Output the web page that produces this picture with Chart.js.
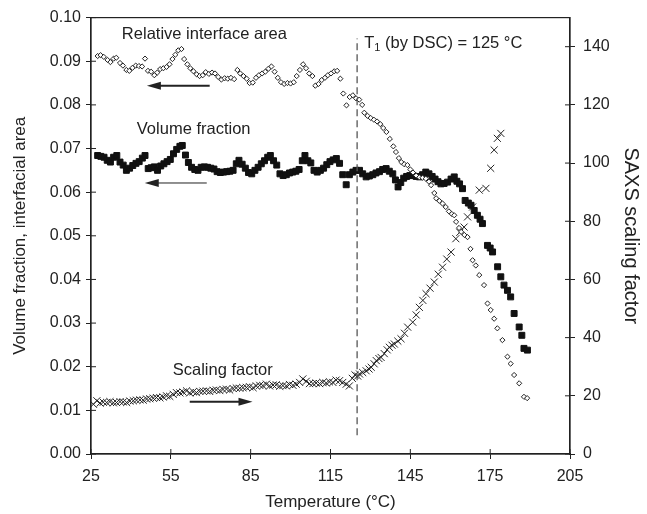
<!DOCTYPE html>
<html>
<head>
<meta charset="utf-8">
<script src="https://cdn.jsdelivr.net/npm/chart.js@4.4.1/dist/chart.umd.min.js"></script>
<style>
  body { margin: 0; background: #fff; }
  #wrap { width: 647px; height: 514px; }
</style>
</head>
<body>
<div id="wrap"><canvas id="myChart" width="647" height="514"></canvas></div>
<script>
// relative interface area (open diamonds, left axis)
const interfaceTemp = [27.5, 28.6, 29.8, 31.2, 32.3, 33.5, 34.5, 35.9, 37, 38.3, 39.4, 40.6, 41.8, 43, 44.2, 45.3, 46.4, 47.6, 48.8, 49.9,
  51, 52.2, 53.4, 54.5, 55.6, 56.7, 57.8, 59, 60, 61.2, 62.3, 63.5, 64.7, 65.8, 67, 68.1, 69.3, 70.5, 71.6, 72.8,
  74, 75.2, 76.4, 77.6, 78.8, 80, 81.1, 82.3, 83.5, 84.6, 85.8, 87, 88.1, 89.3, 90.5, 91.7, 92.8, 94, 95.2, 96.4,
  97.6, 98.8, 100, 101.2, 102.3, 103.5, 104.7, 105.8, 107, 108.2, 109.3, 110.5, 111.7, 112.9, 114, 115.2, 116.4, 117.5, 118.7, 119.8,
  121, 122.2, 123.4, 124.6, 125.8, 126.9, 127.7, 128.9, 130.1, 131.3, 132.5, 133.7, 134.8, 136, 137.3, 138.6, 139.6, 140.7, 141.6, 142.7,
  143.9, 145, 146, 147.2, 148.4, 149.6, 150.8, 152, 152.8, 154, 154.7, 155.9, 157.1, 158.3, 159.5, 160.6, 161.5, 162.2, 163.3, 164.1,
  165.3, 166.5, 167.6, 168.4, 169.6, 170.9, 172.7, 174, 175.2, 176.5, 177.7, 179.6, 181.5, 182.7, 184, 185.9, 187.7, 188.9];
const interfaceArea = [0.0912, 0.0914, 0.0910, 0.0903, 0.0898, 0.0906, 0.0908, 0.0896, 0.0890, 0.0880, 0.0878, 0.0885, 0.0890, 0.0889, 0.0888, 0.0906, 0.0878, 0.0876, 0.0868, 0.0874,
  0.0882, 0.0884, 0.0887, 0.0893, 0.0905, 0.0915, 0.0925, 0.0928, 0.0905, 0.0893, 0.0884, 0.0877, 0.0870, 0.0866, 0.0868, 0.0875, 0.0871, 0.0874, 0.0872, 0.0864,
  0.0858, 0.0861, 0.0860, 0.0862, 0.0859, 0.0880, 0.0872, 0.0866, 0.0860, 0.0850, 0.0851, 0.0862, 0.0868, 0.0872, 0.0876, 0.0883, 0.0888, 0.0876, 0.0862, 0.0852,
  0.0848, 0.0850, 0.0849, 0.0852, 0.0866, 0.0880, 0.0893, 0.0884, 0.0872, 0.0866, 0.0844, 0.0848, 0.0857, 0.0862, 0.0868, 0.0872, 0.0877, 0.0878, 0.0860, 0.0826,
  0.0799, 0.0818, 0.0822, 0.0815, 0.0812, 0.0800, 0.0782, 0.0775, 0.0770, 0.0766, 0.0762, 0.0756, 0.0747, 0.0738, 0.0722, 0.0705, 0.0692, 0.0678, 0.0669, 0.0664,
  0.0662, 0.0652, 0.0645, 0.0638, 0.0634, 0.0633, 0.0631, 0.0624, 0.0616, 0.0598, 0.0586, 0.0580, 0.0574, 0.0566, 0.0556, 0.0550, 0.0547, 0.0532, 0.0518, 0.0509,
  0.0502, 0.0497, 0.0470, 0.0444, 0.0432, 0.0410, 0.0387, 0.0345, 0.0330, 0.0310, 0.0288, 0.0261, 0.0223, 0.0207, 0.0181, 0.0162, 0.0131, 0.0128];

// volume fraction (filled squares, left axis)
const volumeTemp = [27.5, 28.7, 29.9, 31.1, 32.3, 33.5, 34.7, 35.9, 37.1, 38.3, 39.5, 40.7, 41.9, 43.1, 44.3, 45.3, 46.5, 47.6, 48.8, 50,
  51.2, 52.4, 53.6, 54.8, 56, 57.2, 58.4, 59.3, 60.5, 61.6, 62.8, 64, 65.2, 66.4, 67.6, 68.8, 70, 71.2, 72.4, 73.6,
  74.8, 76, 77.2, 78.4, 79.6, 80.6, 81.8, 83, 84.2, 85.4, 86.6, 87.8, 89, 90.2, 91.4, 92.4, 93.6, 94.8, 96, 97.2,
  98.4, 99.6, 100.8, 102, 103.2, 104.4, 105.4, 106.5, 107.6, 108.8, 110, 111.2, 112.4, 113.6, 114.8, 116, 117.2, 118.4, 119.6, 120.9,
  122.1, 123.4, 124.6, 125.9, 127.1, 128.4, 129.6, 130.9, 132.1, 133.4, 134.6, 135.9, 137.1, 138.4, 139.4, 140.4, 141.4, 142.5, 143.6, 144.8,
  146, 147.2, 148.4, 149.6, 150.8, 152, 153.2, 154.3, 155.4, 156.5, 157.7, 159, 160.3, 161.5, 162.5, 163.5, 164.6, 165.6, 166.8, 167.8,
  169, 170.2, 171.2, 172.1, 174, 175, 175.9, 177.8, 179, 180.2, 181.5, 182.7, 184, 185.9, 186.9, 187.7, 189];
const volumeFraction = [0.0684, 0.0682, 0.0680, 0.0673, 0.0669, 0.0680, 0.0684, 0.0669, 0.0662, 0.0650, 0.0655, 0.0661, 0.0666, 0.0670, 0.0678, 0.0684, 0.0654, 0.0656, 0.0658, 0.0650,
  0.0660, 0.0665, 0.0670, 0.0675, 0.0688, 0.0698, 0.0705, 0.0707, 0.0685, 0.0668, 0.0657, 0.0652, 0.0650, 0.0657, 0.0658, 0.0657, 0.0655, 0.0653, 0.0647, 0.0645,
  0.0646, 0.0647, 0.0648, 0.0650, 0.0665, 0.0673, 0.0664, 0.0655, 0.0645, 0.0642, 0.0650, 0.0657, 0.0665, 0.0672, 0.0680, 0.0684, 0.0672, 0.0662, 0.0642, 0.0638,
  0.0640, 0.0644, 0.0646, 0.0648, 0.0652, 0.0672, 0.0684, 0.0672, 0.0667, 0.0650, 0.0646, 0.0650, 0.0655, 0.0663, 0.0670, 0.0674, 0.0677, 0.0666, 0.0640, 0.0617,
  0.0640, 0.0646, 0.0650, 0.0650, 0.0642, 0.0635, 0.0637, 0.0640, 0.0644, 0.0647, 0.0652, 0.0654, 0.0648, 0.0642, 0.0628, 0.0612, 0.0622, 0.0632, 0.0636, 0.0638,
  0.0638, 0.0636, 0.0635, 0.0640, 0.0646, 0.0642, 0.0636, 0.0630, 0.0624, 0.0619, 0.0620, 0.0623, 0.0630, 0.0635, 0.0625, 0.0619, 0.0608, 0.0581, 0.0575, 0.0570,
  0.0558, 0.0547, 0.0538, 0.0528, 0.0478, 0.0472, 0.0463, 0.0429, 0.0406, 0.0387, 0.0375, 0.0360, 0.0322, 0.0291, 0.0272, 0.0242, 0.0238];

// SAXS scaling factor (crosses, right axis)
const scalingTemp = [25.9, 27.2, 28.4, 29.6, 30.9, 32.1, 33.4, 34.6, 35.9, 37.1, 38.4, 39.6, 40.9, 42.1, 43.4, 44.6, 45.9, 47.1, 48.4, 49.6,
  50.9, 52.1, 53.4, 54.6, 55.9, 57.1, 58.4, 59.6, 60.9, 62.1, 63.4, 64.6, 65.9, 67.1, 68.4, 69.6, 70.9, 72.1, 73.4, 74.6,
  75.9, 77.1, 78.4, 79.6, 80.9, 82.1, 83.4, 84.6, 85.9, 87.1, 88.4, 89.6, 90.9, 92.1, 93.4, 94.6, 95.9, 97.1, 98.4, 99.6,
  100.9, 102.1, 103.4, 104.6, 105.9, 107.1, 108.4, 109.6, 110.9, 112.1, 113.4, 114.6, 115.9, 117.1, 118.4, 119.6, 120.9, 122.1, 123.2, 124.2,
  125.2, 125.9, 127.1, 128.4, 129.5, 130.3, 131.4, 132.2, 133.2, 134, 135.2, 136.3, 137.1, 138.1, 139, 140.3, 141.5, 142.8, 144, 145.9,
  147.2, 148.4, 149.7, 150.9, 152.4, 154, 155.5, 157.1, 158.7, 160.3, 162.1, 163.6, 165.2, 166.5, 168.4, 170.9, 173.4, 175.2, 176.5, 177.7, 179];
const scalingFactor = [17.1, 18.3, 17.5, 17.8, 17.7, 18.0, 17.6, 17.7, 18.0, 17.9, 17.7, 18.2, 18.3, 18.5, 18.6, 18.5, 18.9, 19.0, 19.2, 19.4,
  19.3, 19.6, 20.0, 19.8, 20.5, 21.1, 21.0, 21.3, 21.7, 21.0, 21.4, 21.1, 21.5, 21.6, 21.7, 21.5, 21.9, 22.0, 21.8, 22.2,
  22.3, 22.0, 22.5, 22.7, 22.6, 22.8, 22.9, 23.1, 22.8, 23.4, 23.6, 23.5, 24.0, 23.4, 23.7, 23.8, 23.3, 23.5, 23.4, 23.9,
  23.6, 24.0, 24.6, 25.8, 25.0, 24.2, 24.2, 24.4, 24.2, 24.6, 24.4, 24.8, 24.6, 25.4, 25.2, 24.6, 24.0, 23.4, 26.0, 27.2,
  26.8, 27.5, 28.0, 28.6, 29.2, 29.8, 31.0, 32.1, 32.8, 33.2, 34.5, 35.8, 36.7, 37.4, 37.8, 38.8, 39.6, 41.5, 43.6, 45.3,
  47.8, 50.4, 52.8, 55.1, 57.0, 59.1, 61.8, 64.2, 67.0, 69.4, 74.0, 76.2, 78.0, 81.5, 84.9, 90.7, 91.3, 98.2, 104.5, 108.5, 110.2];

// axis ticks
const tempTicks = [25, 55, 85, 115, 145, 175, 205];
const leftTicks = [0, 0.01, 0.02, 0.03, 0.04, 0.05, 0.06, 0.07, 0.08, 0.09, 0.1];
const rightTicks = [0, 20, 40, 60, 80, 100, 120, 140];
const dscTemp = 125;
const dscRange = [0.0043, 0.0952];

const FONT = "'Liberation Sans', Arial, sans-serif";
const INK = "#222";

document.addEventListener("DOMContentLoaded", function () {
  iniciarGrafica();
});

function pares(xs, ys) {
  return xs.map((x, i) => ({ x: x, y: ys[i] }));
}

function fijarTicks(lista) {
  return function (scale) {
    scale.ticks = lista.map((v) => ({ value: v }));
  };
}

// ticks that cross the axis line + frame around the plot
const marcoPlugin = {
  id: "marco",
  afterDraw(chart) {
    const ctx = chart.ctx;
    const a = chart.chartArea;
    const s = chart.scales;
    ctx.save();
    ctx.strokeStyle = INK;
    ctx.lineWidth = 1.2;
    ctx.strokeRect(a.left, a.top, a.right - a.left, a.bottom - a.top);
    ctx.lineWidth = 1;
    ctx.beginPath();
    s.x.ticks.forEach((t) => {
      const px = s.x.getPixelForValue(t.value);
      ctx.moveTo(px, a.bottom);
      ctx.lineTo(px, a.bottom - 5);
    });
    s.y.ticks.forEach((t) => {
      const py = s.y.getPixelForValue(t.value);
      ctx.moveTo(a.left, py);
      ctx.lineTo(a.left + 5, py);
    });
    s.y2.ticks.forEach((t) => {
      const py = s.y2.getPixelForValue(t.value);
      ctx.moveTo(a.right, py);
      ctx.lineTo(a.right - 5, py);
    });
    ctx.stroke();
    ctx.restore();
  },
};

// labels and arrows, placed in data units
const notasPlugin = {
  id: "notas",
  afterDatasetsDraw(chart) {
    const ctx = chart.ctx;
    const sx = chart.scales.x;
    const sy = chart.scales.y;
    ctx.save();
    ctx.fillStyle = INK;
    ctx.strokeStyle = INK;
    ctx.font = "16.5px " + FONT;
    ctx.textBaseline = "middle";
    ctx.textAlign = "left";

    function texto(str, t, v) {
      ctx.fillText(str, sx.getPixelForValue(t), sy.getPixelForValue(v));
    }
    function flecha(t0, t1, v, grosor) {
      const x0 = sx.getPixelForValue(t0);
      const x1 = sx.getPixelForValue(t1);
      const y = sy.getPixelForValue(v);
      const dir = x1 > x0 ? 1 : -1;
      ctx.lineWidth = grosor;
      ctx.beginPath();
      ctx.moveTo(x0, y);
      ctx.lineTo(x1 - dir * 10, y);
      ctx.stroke();
      ctx.beginPath();
      ctx.moveTo(x1, y);
      ctx.lineTo(x1 - dir * 14, y - 4);
      ctx.lineTo(x1 - dir * 14, y + 4);
      ctx.closePath();
      ctx.fill();
    }

    texto("Relative interface area", 36.6, 0.0961);
    flecha(69.6, 46, 0.0844, 2);
    texto("Volume fraction", 42.2, 0.0744);
    flecha(68.5, 45.2, 0.0621, 1);
    texto("Scaling factor", 55.7, 0.0192);
    flecha(62.1, 85.7, 0.012, 2);

    // T1 with subscript
    let x = sx.getPixelForValue(127.7);
    const y = sy.getPixelForValue(0.094);
    ctx.fillText("T", x, y);
    x += ctx.measureText("T").width;
    ctx.font = "11px " + FONT;
    ctx.fillText("1", x, y + 4);
    x += ctx.measureText("1").width;
    ctx.font = "16.5px " + FONT;
    ctx.fillText(" (by DSC) = 125 °C", x, y);
    ctx.restore();
  },
};

function iniciarGrafica() {
  var ctx = document.getElementById("myChart").getContext("2d");
  var myChart = new Chart(ctx, {
    type: "scatter",
    data: {
      datasets: [
        {
          label: "DSC",
          type: "line",
          data: [
            { x: dscTemp, y: dscRange[0] },
            { x: dscTemp, y: dscRange[1] },
          ],
          borderColor: "#555",
          borderWidth: 1.3,
          borderDash: [7, 4],
          pointRadius: 0,
          yAxisID: "y",
        },
        {
          label: "Relative interface area",
          data: pares(interfaceTemp, interfaceArea),
          pointStyle: "rectRot",
          pointRadius: 2.6,
          borderWidth: 1,
          borderColor: INK,
          backgroundColor: "#fff",
          yAxisID: "y",
        },
        {
          label: "Volume fraction",
          data: pares(volumeTemp, volumeFraction),
          pointStyle: "rect",
          pointRadius: 4.2,
          borderWidth: 1,
          borderColor: "#111",
          backgroundColor: "#111",
          yAxisID: "y",
        },
        {
          label: "Scaling factor",
          data: pares(scalingTemp, scalingFactor),
          pointStyle: "crossRot",
          pointRadius: 5,
          borderWidth: 1,
          borderColor: INK,
          backgroundColor: INK,
          yAxisID: "y2",
        },
      ],
    },
    options: {
      responsive: false,
      animation: false,
      layout: { padding: { top: 17, left: 0, right: 0, bottom: 0 } },
      plugins: {
        legend: { display: false },
        title: { display: false },
        tooltip: { enabled: false },
      },
      scales: {
        x: {
          type: "linear",
          min: 25,
          max: 205,
          afterBuildTicks: fijarTicks(tempTicks),
          afterFit: (s) => { s.height = 60; },
          grid: { drawOnChartArea: false, tickLength: 5, color: INK },
          border: { color: INK, width: 1.2 },
          ticks: { color: INK, font: { family: FONT, size: 16 }, padding: 8, maxRotation: 0 },
          title: {
            display: true,
            text: "Temperature (°C)",
            color: INK,
            font: { family: FONT, size: 17 },
            padding: { top: 0, bottom: 1 },
          },
        },
        y: {
          position: "left",
          min: 0,
          max: 0.1,
          afterBuildTicks: fijarTicks(leftTicks),
          afterFit: (s) => { s.width = 91; },
          grid: { drawOnChartArea: false, tickLength: 5, color: INK },
          border: { color: INK, width: 1.2 },
          ticks: {
            color: INK,
            font: { family: FONT, size: 16 },
            padding: 5,
            callback: (v) => v.toFixed(2),
          },
          title: {
            display: true,
            text: "Volume fraction, interfacial area",
            color: INK,
            font: { family: FONT, size: 17 },
            padding: { top: 10, bottom: 0 },
          },
        },
        y2: {
          position: "right",
          min: 0,
          max: 150,
          afterBuildTicks: fijarTicks(rightTicks),
          afterFit: (s) => { s.width = 77; },
          grid: { drawOnChartArea: false, tickLength: 5, color: INK },
          border: { color: INK, width: 1.2 },
          ticks: { color: INK, font: { family: FONT, size: 16 }, padding: 8 },
          title: {
            display: true,
            text: "SAXS scaling factor",
            color: INK,
            font: { family: FONT, size: 20 },
            padding: { top: 4, bottom: 0 },
          },
        },
      },
    },
    plugins: [marcoPlugin, notasPlugin],
  });
}
</script>
</body>
</html>
